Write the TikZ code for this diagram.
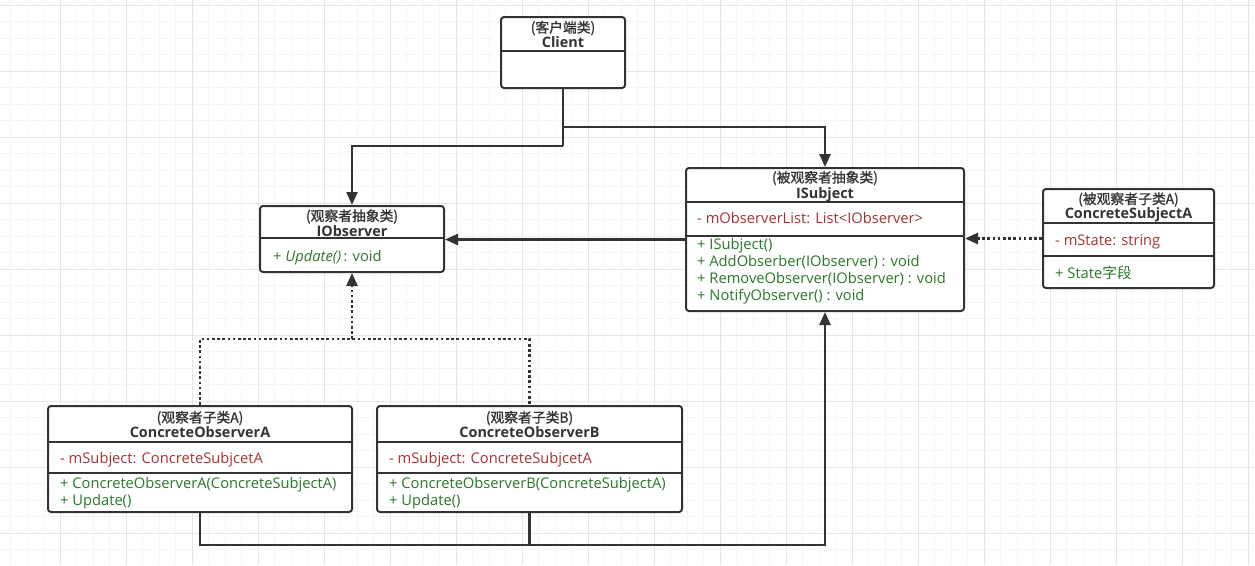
\documentclass[tikz,border=0pt]{standalone}
\usepackage{fontspec}
\setmainfont{Open Sans}
\newfontfamily\cjk{Noto Sans CJK SC}[AutoFakeBold=1.2]
\usetikzlibrary{arrows.meta}
\definecolor{ink}{HTML}{333333}
\definecolor{attrc}{HTML}{A83232}
\definecolor{methc}{HTML}{2A782A}
\definecolor{gminor}{HTML}{F5F5F5}
\definecolor{gmajor}{HTML}{E6E6E6}
\begin{document}
\begin{tikzpicture}[x=1pt,y=-1pt,
  cls/.style={draw=ink, line width=2pt, rounded corners=3pt, fill=white, inner sep=0pt},
  sepline/.style={draw=ink, line width=1.6pt},
  cnline/.style={inner sep=0pt, anchor=base, text=ink, font=\fontsize{13.8}{16}\selectfont\cjk\bfseries},
  title/.style={inner sep=0pt, anchor=base, text=ink, font=\fontsize{14.4}{16}\selectfont\bfseries},
  attr/.style={inner sep=0pt, anchor=base west, text=attrc, font=\fontsize{14.7}{16}\selectfont},
  meth/.style={inner sep=0pt, anchor=base west, text=methc, font=\fontsize{14.7}{16}\selectfont},
  conn/.style={draw=ink, line width=2.4pt},
  dep/.style={draw=ink, line width=2.6pt, dash pattern=on 2.6pt off 2.6pt},
  arr/.style={-{Triangle[length=13pt,width=11pt]}}
]
\useasboundingbox (0,0) rectangle (1255,565);
\fill[white] (0,0) rectangle (1255,565);
% grid
\foreach \k in {0,...,77} {\draw[gminor, line width=1pt] ({-6+16.5*\k},0) -- ++(0,565);}
\foreach \k in {0,...,34} {\draw[gminor, line width=1pt] (0,{5+16.5*\k}) -- ++(1255,0);}
\foreach \k in {0,...,19} {\draw[gmajor, line width=1pt] ({-6+66*\k},0) -- ++(0,565);}
\foreach \k in {0,...,8} {\draw[gmajor, line width=1pt] (0,{5+66*\k}) -- ++(1255,0);}

% ---- Client
\node[cls, minimum width=124pt, minimum height=71pt] (client) at (563,52.5) {};
\draw[sepline] (client.west |- 0,51) -- (client.east |- 0,51);
\node[cnline] (client-t1) at (563,32.5) {(客户端类)};
\node[title] (client-t2) at (563,47) {Client};

% ---- IObserver
\node[cls, minimum width=184pt, minimum height=66pt] (iobs) at (352,239) {};
\draw[sepline] (iobs.west |- 0,238) -- (iobs.east |- 0,238);
\node[cnline] (iobs-t1) at (352,221) {(观察者抽象类)};
\node[title] (iobs-t2) at (352,236.5) {IObserver};
\node[meth] (iobs-m1) at (273,261.5) {+ \textit{Update()}\,: void};

% ---- ISubject
\node[cls, minimum width=278pt, minimum height=143pt] (isub) at (825,239.5) {};
\draw[sepline] (isub.west |- 0,202) -- (isub.east |- 0,202);
\draw[sepline] (isub.west |- 0,236) -- (isub.east |- 0,236);
\node[cnline] (isub-t1) at (825,182.5) {(被观察者抽象类)};
\node[title] (isub-t2) at (825,198.3) {ISubject};
\node[attr] (isub-a1) at (697,223.5) {- mObserverList: List<IObserver>};
\node[meth] (isub-m1) at (697,249.3) {+ ISubject()};
\node[meth] (isub-m2) at (697,266.3) {+ AddObserber(IObserver) : void};
\node[meth] (isub-m3) at (697,283.3) {+ RemoveObserver(IObserver) : void};
\node[meth] (isub-m4) at (697,300.3) {+ NotifyObserver() : void};

% ---- ConcreteSubjectA
\node[cls, minimum width=171pt, minimum height=99pt] (csa) at (1128.5,238.5) {};
\draw[sepline] (csa.west |- 0,223) -- (csa.east |- 0,223);
\draw[sepline] (csa.west |- 0,256) -- (csa.east |- 0,256);
\node[cnline] (csa-t1) at (1128.5,204) {(被观察者子类A)};
\node[title] (csa-t2) at (1128.5,218.5) {ConcreteSubjectA};
\node[attr] (csa-a1) at (1055,245) {- mState: string};
\node[meth] (csa-m1) at (1055,278) {+ State{\cjk 字段}};

% ---- ConcreteObserverA
\node[cls, minimum width=304pt, minimum height=106pt] (coa) at (200,459) {};
\draw[sepline] (coa.west |- 0,442) -- (coa.east |- 0,442);
\draw[sepline] (coa.west |- 0,473) -- (coa.east |- 0,473);
\node[cnline] (coa-t1) at (200,422.5) {(观察者子类A)};
\node[title] (coa-t2) at (200,437.7) {ConcreteObserverA};
\node[attr] (coa-a1) at (60,463.3) {- mSubject: ConcreteSubjcetA};
\node[meth] (coa-m1) at (60,488.3) {+ ConcreteObserverA(ConcreteSubjectA)};
\node[meth] (coa-m2) at (60,505) {+ Update()};

% ---- ConcreteObserverB
\node[cls, minimum width=305pt, minimum height=106pt] (cob) at (529.5,459) {};
\draw[sepline] (cob.west |- 0,442) -- (cob.east |- 0,442);
\draw[sepline] (cob.west |- 0,473) -- (cob.east |- 0,473);
\node[cnline] (cob-t1) at (529.5,422.5) {(观察者子类B)};
\node[title] (cob-t2) at (529.5,437.7) {ConcreteObserverB};
\node[attr] (cob-a1) at (389,463.3) {- mSubject: ConcreteSubjcetA};
\node[meth] (cob-m1) at (389,488.3) {+ ConcreteObserverB(ConcreteSubjectA)};
\node[meth] (cob-m2) at (389,505) {+ Update()};

% ---- connectors
\coordinate (j1) at (563,146);
\coordinate (j2) at (563,127);
\coordinate (mid) at (352,339);
\coordinate (bot) at (0,545);
\draw[conn] (client.south) -- (j1);
\draw[conn, arr] (j1) -| (iobs.north);
\draw[conn, arr] (j2) -| (isub.north);
\draw[conn, arr] (isub.west) -- (iobs.east |- isub.west);
\draw[dep, arr] (csa.west) -- (isub.east |- csa.west);
\draw[dep] (coa.north) |- (cob.north |- mid) -- (cob.north);
\draw[dep, arr] (iobs.south |- mid) -- (iobs.south);
\draw[conn, arr] (coa.south) |- (isub.south |- bot) -- (isub.south);
\draw[conn] (cob.south) -- (cob.south |- bot);
\end{tikzpicture}
\end{document}
